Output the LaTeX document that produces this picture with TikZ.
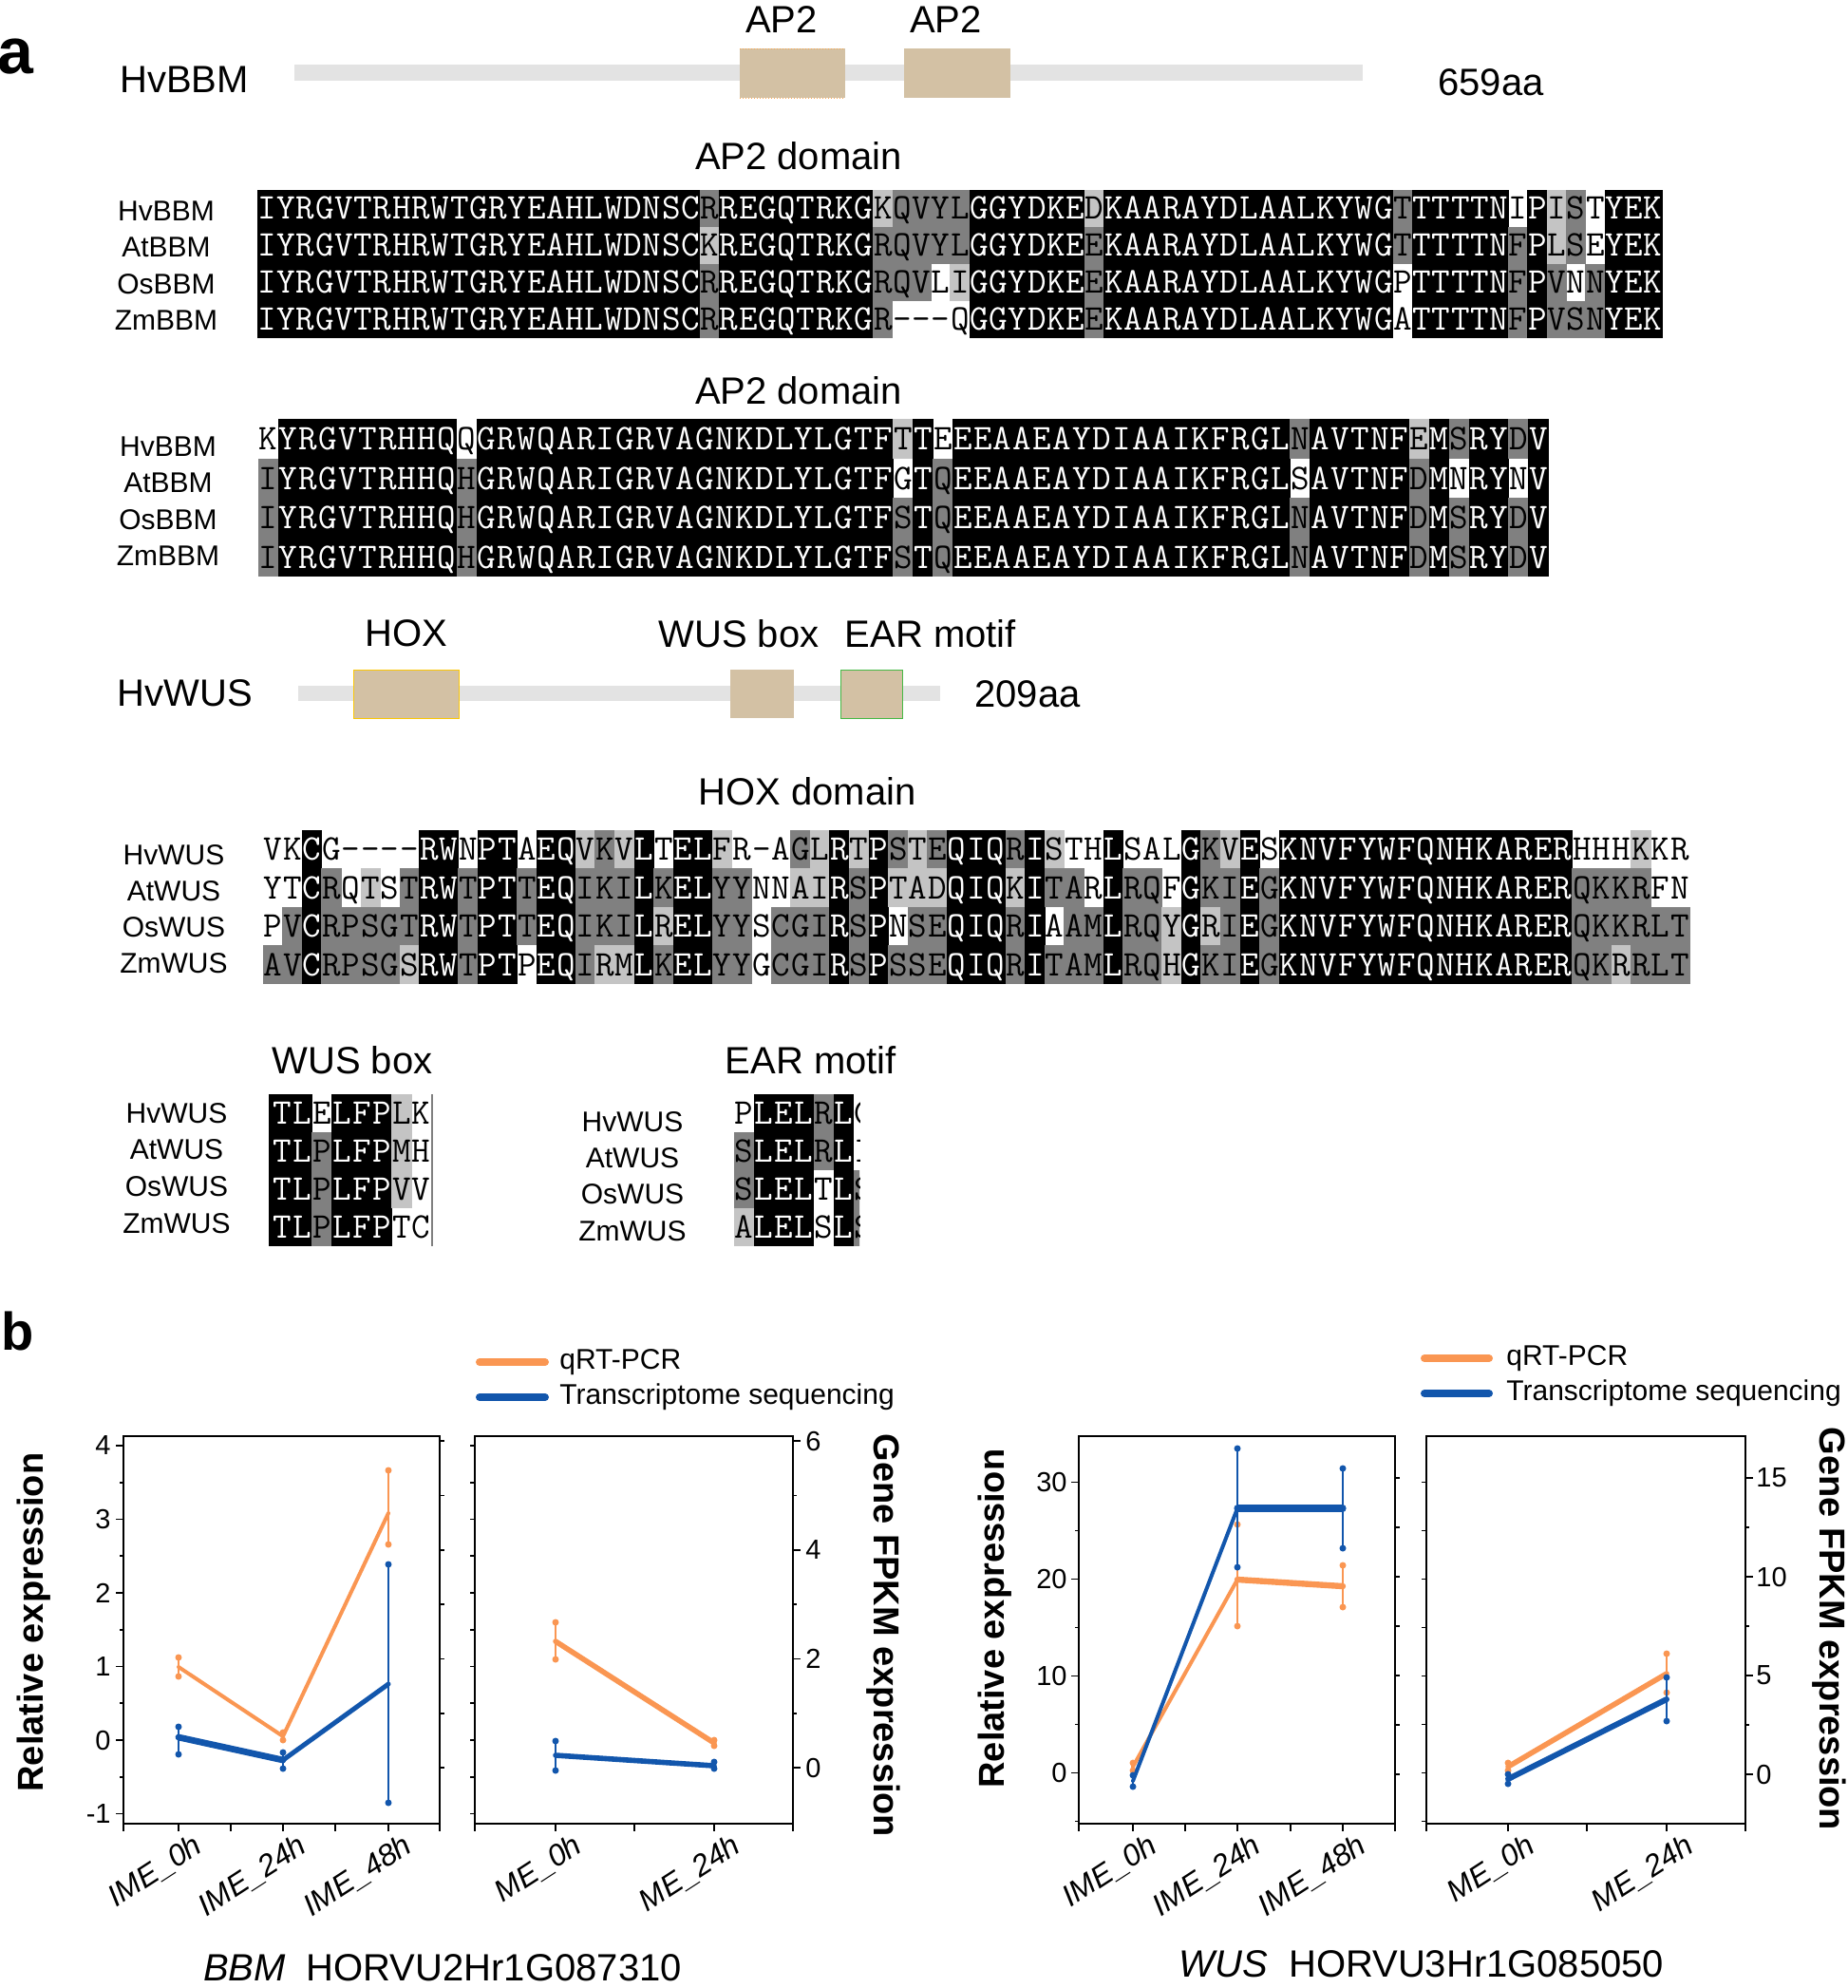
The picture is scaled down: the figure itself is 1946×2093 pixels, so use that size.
\documentclass[tikz,border=0pt]{standalone}
\usepackage{fontspec}
\setmainfont{Liberation Sans}
\definecolor{dgray}{RGB}{128,128,128}
\definecolor{lgray}{RGB}{196,196,196}
\definecolor{barC}{RGB}{227,227,227}
\definecolor{tanC}{RGB}{211,193,164}
\definecolor{orangeC}{RGB}{250,150,82}
\definecolor{blueC}{RGB}{18,86,172}
\newcommand\myfs[1]{\fontsize{#1}{#1}\selectfont}
\def\rep#1#2{\ifnum#1>0 #2\expandafter\rep\expandafter{\number\numexpr#1-1\relax}{#2}\fi}
\newcount\alncnt
\newif\ifalntext
\def\ABO{11.6}
\def\alnrow#1#2#3#4#5#6#7{%
  \def\APre{#1}\def\AX{#2}\def\AY{#3}\def\AW{#4}\def\AH{#5}%
  \edef\alnGo{\noexpand\alnloop#6\noexpand\relax#7\noexpand\relax}%
  \alncnt=0 \alntextfalse\alnGo
  \alncnt=0 \alntexttrue\alnGo}
\def\alnloop#1#2\relax#3#4\relax{%
  \advance\alncnt by 1
  \pgfmathsetmacro\cxl{\AX+(\the\alncnt-1)*\AW}%
  \pgfmathsetmacro\cxc{\cxl+\AW/2}%
  \ifalntext
    \ifx#3B\def\tcol{white}\else\def\tcol{black}\fi
    \node[aln,text=\tcol] (\APre\the\alncnt) at (\cxc,\AY+\ABO) {#1};%
  \else
    \def\bcol{white}%
    \ifx#3B\def\bcol{black}\fi
    \ifx#3D\def\bcol{dgray}\fi
    \ifx#3L\def\bcol{lgray}\fi
    \ifx#3W\else\fill[fill=\bcol] (\cxl-0.4,\AY-\AH/2) rectangle (\cxl+\AW+0.4,\AY+\AH/2);\fi
  \fi
  \ifx\relax#2\relax\let\alnnext\relax\else\def\alnnext{\alnloop#2\relax#4\relax}\fi
  \alnnext}
\newcommand\ebar[4]{\draw[#1,line width=1.3pt] (#2,#3) -- (#2,#4); \fill[#1] (#2,#3) circle (3.5) (#2,#4) circle (3.5);}
\tikzset{
  aln/.style={font=\ttfamily\myfs{19},inner sep=0pt,anchor=base},
  hdr/.style={font=\myfs{20},inner sep=0pt},
  seqlbl/.style={font=\myfs{15},inner sep=0pt},
  tklab/.style={font=\myfs{14.5},inner sep=0pt},
  xtk/.style={font=\itshape\myfs{16},inner sep=0pt,rotate=33,anchor=east},
  axl/.style={font=\bfseries\myfs{19},inner sep=0pt},
  legtxt/.style={font=\myfs{15},inner sep=0pt,anchor=west},
  frame/.style={black,line width=1pt},
  tk/.style={black,line width=0.9pt},
  dl/.style={line cap=round,line join=round},
  leg/.style={line width=4pt,line cap=round}
}
\begin{document}
\begin{tikzpicture}[x=0.5pt,y=-0.5pt]
\useasboundingbox (0,0) rectangle (1946,2093);
% ---------------- panel a header
\node[font=\bfseries\myfs{34},inner sep=0pt] (pa) at (16,60) {a};
\node[hdr] (hBBM) at (194,84) {HvBBM};
\fill[barC] (310,68) rectangle (1435,85);
\fill[tanC] (779,51) rectangle (890,103);
\draw[orange!70,line width=0.5pt,densely dotted] (779,51) -- (890,51) (779,103) -- (890,103);
\fill[tanC] (952,51) rectangle (1064,103);
\node[hdr] (ap2a) at (823,21) {AP2};
\node[hdr] (ap2b) at (996,21) {AP2};
\node[hdr] (len1) at (1570,87) {659aa};
\node[hdr] (t1) at (841,164) {AP2 domain};
% block 1
\node[seqlbl] (l1a) at (175,222) {HvBBM};
\node[seqlbl] (l1b) at (175,260) {AtBBM};
\node[seqlbl] (l1c) at (175,299) {OsBBM};
\node[seqlbl] (l1d) at (175,337) {ZmBBM};
\alnrow{aA}{271}{219}{20.27}{39}{IYRGVTRHRWTGRYEAHLWDNSCRREGQTRKGKQVYLGGYDKEDKAARAYDLAALKYWGTTTTTNIPISTYEK}{\rep{23}BD\rep{8}BLDDDD\rep{6}BL\rep{15}BD\rep{5}BWBLDW\rep{3}B}
\alnrow{aB}{271}{258}{20.27}{39}{IYRGVTRHRWTGRYEAHLWDNSCKREGQTRKGRQVYLGGYDKEEKAARAYDLAALKYWGTTTTTNFPLSEYEK}{\rep{23}BL\rep{8}BDDDDD\rep{6}BD\rep{15}BD\rep{5}BDBLDW\rep{3}B}
\alnrow{aC}{271}{297}{20.27}{39}{IYRGVTRHRWTGRYEAHLWDNSCRREGQTRKGRQVLIGGYDKEEKAARAYDLAALKYWGPTTTTNFPVNNYEK}{\rep{23}BD\rep{8}BDDDWL\rep{6}BD\rep{15}BW\rep{5}BDBDWD\rep{3}B}
\alnrow{aD}{271}{336}{20.27}{39}{IYRGVTRHRWTGRYEAHLWDNSCRREGQTRKGR---QGGYDKEEKAARAYDLAALKYWGATTTTNFPVSNYEK}{\rep{23}BD\rep{8}BDWWWW\rep{6}BD\rep{15}BW\rep{5}BDBDDD\rep{3}B}
% block 2
\node[hdr] (t2) at (841,411) {AP2 domain};
\node[seqlbl] (l2a) at (177,470) {HvBBM};
\node[seqlbl] (l2b) at (177,508) {AtBBM};
\node[seqlbl] (l2c) at (177,547) {OsBBM};
\node[seqlbl] (l2d) at (177,585) {ZmBBM};
\alnrow{bA}{272}{462}{20.9}{41.5}{KYRGVTRHHQQGRWQARIGRVAGNKDLYLGTFTTEEEAAEAYDIAAIKFRGLNAVTNFEMSRYDV}{W\rep{9}BW\rep{21}BLBW\rep{17}BD\rep{5}BLBDBBDB}
\alnrow{bB}{272}{503.5}{20.9}{41.5}{IYRGVTRHHQHGRWQARIGRVAGNKDLYLGTFGTQEEAAEAYDIAAIKFRGLSAVTNFDMNRYNV}{D\rep{9}BD\rep{21}BWBD\rep{17}BW\rep{5}BDBWBBWB}
\alnrow{bC}{272}{545}{20.9}{41.5}{IYRGVTRHHQHGRWQARIGRVAGNKDLYLGTFSTQEEAAEAYDIAAIKFRGLNAVTNFDMSRYDV}{D\rep{9}BD\rep{21}BDBD\rep{17}BD\rep{5}BDBDBBDB}
\alnrow{bD}{272}{586.5}{20.9}{41.5}{IYRGVTRHHQHGRWQARIGRVAGNKDLYLGTFSTQEEAAEAYDIAAIKFRGLNAVTNFDMSRYDV}{D\rep{9}BD\rep{21}BDBD\rep{17}BD\rep{5}BDBDBBDB}
% HvWUS schematic
\node[hdr] (hHOX) at (428,667) {HOX};
\node[hdr] (hWB) at (778,667) {WUS box};
\node[hdr] (hEAR) at (980,667) {EAR motif};
\node[hdr] (hWUS) at (195,730) {HvWUS};
\fill[barC] (314,722) rectangle (990,738);
\fill[tanC] (372,705) rectangle (483,756);
\draw[yellow!60!orange,line width=0.4pt] (372,705) rectangle (483,756);
\fill[tanC] (769,705) rectangle (836,756);
\fill[tanC] (885,705) rectangle (950,756);
\draw[green!45!gray,line width=0.4pt] (885,705) rectangle (950,756);
\node[hdr] (len2) at (1082,731) {209aa};
% HOX block
\node[hdr] (t3) at (850,833) {HOX domain};
\node[seqlbl] (l3a) at (183,900) {HvWUS};
\node[seqlbl] (l3b) at (183,938) {AtWUS};
\node[seqlbl] (l3c) at (183,976) {OsWUS};
\node[seqlbl] (l3d) at (183,1014) {ZmWUS};
\alnrow{cA}{277}{894}{20.58}{40.5}{VKCG----RWNPTAEQVKVLTELFR-AGLRTPSTEQIQRISTHLSALGKVESKNVFYWFQNHKARERHHHKKR}{WWBWWWWWBBWBBWBBLDLBWBBLWWWDLBLBDLDBBBDBLWWBWWWBDLBW\rep{15}BWWWLWW}
\alnrow{cB}{277}{934.5}{20.58}{40.5}{YTCRQTSTRWTPTTEQIKILKELYYNNAIRSPTADQIQKITARLRQFGKIEGKNVFYWFQNHKARERQKKRFN}{WWBDWLWDBBDBBDBBDDDBDBBDDWWLLBDBLLLBBBLBDDWBDDWBDDBD\rep{15}BDDDDWW}
\alnrow{cC}{277}{975}{20.58}{40.5}{PVCRPSGTRWTPTTEQIKILRELYYSCGIRSPNSEQIQRIAAMLRQYGRIEGKNVFYWFQNHKARERQKKRLT}{WDBDDDDDBBDBBDBBDDDBLBBDDWDDDBDBWDDBBBDBWDDBDDLBLDBD\rep{15}BDDDDDD}
\alnrow{cD}{277}{1015.5}{20.58}{40.5}{AVCRPSGSRWTPTPEQIRMLKELYYGCGIRSPSSEQIQRITAMLRQHGKIEGKNVFYWFQNHKARERQKRRLT}{DDBDDDDLBBDBBWBBDLLBDBBDDWDDDBDBDDDBBBDBDDDBDDLBDDBD\rep{15}BDDLDDD}
% WUS box
\node[hdr] (t4) at (371,1116) {WUS box};
\node[seqlbl] (l4a) at (186,1172) {HvWUS};
\node[seqlbl] (l4b) at (186,1210) {AtWUS};
\node[seqlbl] (l4c) at (186,1249) {OsWUS};
\node[seqlbl] (l4d) at (186,1288) {ZmWUS};
\fill[black] (283,1152) rectangle (287.3,1312);
\fill[dgray] (454.2,1152) rectangle (455.8,1312);
\alnrow{dA}{287}{1172}{20.9}{40}{TLELFPLK}{BBWBBBLW}
\alnrow{dB}{287}{1212}{20.9}{40}{TLPLFPMH}{BBDBBBLW}
\alnrow{dC}{287}{1252}{20.9}{40}{TLPLFPVV}{BBDBBBLW}
\alnrow{dD}{287}{1292}{20.9}{40}{TLPLFPTC}{BBDBBBWW}
% EAR motif
\node[hdr] (t5) at (854,1116) {EAR motif};
\node[seqlbl] (l5a) at (666,1181) {HvWUS};
\node[seqlbl] (l5b) at (666,1219) {AtWUS};
\node[seqlbl] (l5c) at (666,1257) {OsWUS};
\node[seqlbl] (l5d) at (666,1296) {ZmWUS};
\begin{scope}
\clip (770,1150) rectangle (905,1315);
\alnrow{eA}{773}{1172}{21}{40}{PLELRLC}{WBBBDBW}
\alnrow{eB}{773}{1212}{21}{40}{SLELRLI}{DBBBDBW}
\alnrow{eC}{773}{1252}{21}{40}{SLELTLS}{DBBBWBD}
\alnrow{eD}{773}{1292}{21}{40}{ALELSLS}{LBBBWBD}
\end{scope}
% ---------------- panel b
\node[font=\bfseries\myfs{28},inner sep=0pt] (pb) at (19,1401) {b};
% legends
\draw[leg,orangeC] (505,1434) -- (574,1434);
\node[legtxt] (lq1) at (589,1434) {qRT-PCR};
\draw[leg,blueC] (505,1471) -- (574,1471);
\node[legtxt] (lt1) at (589,1471) {Transcriptome sequencing};
\draw[leg,orangeC] (1500,1430) -- (1568,1430);
\node[legtxt] (lq2) at (1586,1430) {qRT-PCR};
\draw[leg,blueC] (1500,1467) -- (1568,1467);
\node[legtxt] (lt2) at (1586,1467) {Transcriptome sequencing};
% frames
\draw[frame] (130,1512) rectangle (463,1920);
\draw[frame] (500,1512) rectangle (835,1920);
\draw[frame] (1136,1512) rectangle (1469,1920);
\draw[frame] (1502,1512) rectangle (1838,1920);
\foreach \x in {130,188,243,298,353,409,463,500,585,668,752,835,1136,1193,1248,1303,1359,1414,1469,1502,1588,1671,1755,1838}
  \draw[tk] (\x,1920) -- (\x,1928);
% P1 axes
\foreach \v in {-1,0,1,2,3,4} {
  \draw[tk] (130,{1832-77.5*(\v)}) -- ++(-8,0);
  \node[tklab,anchor=east] (p1l\v) at (117,{1832-77.5*(\v)}) {\v};
}
\foreach \v in {-0.5,0.5,1.5,2.5,3.5} \draw[tk] (130,{1832-77.5*(\v)}) -- ++(-4,0);
\foreach \k in {0,1,...,6} \draw[tk] (463,{1861-57.3*(\k)}) -- ++(5,0);
% P2 axes
\foreach \v in {-1,-0.5,...,4} \draw[tk] (500,{1832-77.5*(\v)}) -- ++(-5,0);
\foreach \k in {0,2,4,6} {
  \draw[tk] (835,{1861-57.3*(\k)}) -- ++(8,0);
  \node[tklab,anchor=west] (p2r\k) at (848,{1861-57.3*(\k)}) {\k};
}
\foreach \k in {1,3,5} \draw[tk] (835,{1861-57.3*(\k)}) -- ++(4,0);
% P3 axes
\foreach \v in {0,10,20,30} {
  \draw[tk] (1136,{1866.5-10.2*(\v)}) -- ++(-8,0);
  \node[tklab,anchor=east] (p3l\v) at (1124,{1866.5-10.2*(\v)}) {\v};
}
\foreach \v in {-5,5,15,25} \draw[tk] (1136,{1866.5-10.2*(\v)}) -- ++(-4,0);
\foreach \k in {0,2.5,...,15} \draw[tk] (1469,{1868-20.8*(\k)}) -- ++(5,0);
% P4 axes
\foreach \v in {-5,0,...,30} \draw[tk] (1502,{1866.5-10.2*(\v)}) -- ++(-5,0);
\foreach \k in {0,5,10,15} {
  \draw[tk] (1838,{1868-20.8*(\k)}) -- ++(8,0);
  \node[tklab,anchor=west] (p4r\k) at (1849,{1868-20.8*(\k)}) {\k};
}
\foreach \k in {2.5,7.5,12.5} \draw[tk] (1838,{1868-20.8*(\k)}) -- ++(4,0);
% x tick labels
\node[xtk] (x1) at (210,1940) {IME\_0h};
\node[xtk] (x2) at (320,1940) {IME\_24h};
\node[xtk] (x3) at (431,1940) {IME\_48h};
\node[xtk] (x4) at (610,1940) {ME\_0h};
\node[xtk] (x5) at (777,1940) {ME\_24h};
\node[xtk] (x6) at (1215,1940) {IME\_0h};
\node[xtk] (x7) at (1325,1940) {IME\_24h};
\node[xtk] (x8) at (1436,1940) {IME\_48h};
\node[xtk] (x9) at (1613,1940) {ME\_0h};
\node[xtk] (x10) at (1780,1940) {ME\_24h};
% axis titles
\node[axl,rotate=90] (ya1) at (36,1708) {Relative expression};
\node[axl,rotate=-90] (ya2) at (930,1722) {Gene FPKM expression};
\node[axl,rotate=90] (ya3) at (1048,1704) {Relative expression};
\node[axl,rotate=-90] (ya4) at (1926,1715) {Gene FPKM expression};
% captions
\node[font=\myfs{20},inner sep=0pt] (capL) at (466,2072) {\textit{BBM}\hspace{0.55em}HORVU2Hr1G087310};
\node[font=\myfs{20},inner sep=0pt] (capR) at (1497,2068) {\textit{WUS}\hspace{0.55em}HORVU3Hr1G085050};
% ---- data P1
\ebar{orangeC}{188}{1745}{1765}
\ebar{orangeC}{298}{1824}{1832}
\ebar{orangeC}{409}{1548}{1626}
\draw[dl,orangeC,line width=2pt] (188,1755) -- (298,1828) -- (409,1593);
\ebar{blueC}{188}{1818}{1847}
\ebar{blueC}{298}{1845}{1862}
\ebar{blueC}{409}{1647}{1898}
\draw[dl,blueC,line width=3.4pt] (188,1829) -- (298,1853);
\draw[dl,blueC,line width=2.5pt] (298,1853) -- (409,1773);
% ---- data P2
\ebar{orangeC}{585}{1708}{1747}
\ebar{orangeC}{752}{1832}{1838}
\draw[dl,orangeC,line width=2.8pt] (585,1728) -- (752,1835);
\ebar{blueC}{585}{1833}{1864}
\ebar{blueC}{752}{1855}{1862}
\draw[dl,blueC,line width=2.8pt] (585,1848) -- (752,1859);
% ---- data P3
\ebar{orangeC}{1193}{1856}{1864}
\ebar{orangeC}{1303}{1605}{1712}
\ebar{orangeC}{1414}{1648}{1692}
\draw[dl,orangeC,line width=2pt] (1193,1860) -- (1303,1663);
\draw[dl,orangeC,line width=3.2pt] (1303,1663) -- (1414,1670);
\ebar{blueC}{1193}{1869}{1881}
\ebar{blueC}{1303}{1525}{1650}
\ebar{blueC}{1414}{1546}{1630}
\draw[dl,blueC,line width=2pt] (1193,1875) -- (1303,1588);
\draw[dl,blueC,line width=3.6pt] (1303,1588) -- (1414,1588);
% ---- data P4
\ebar{orangeC}{1588}{1856}{1864}
\ebar{orangeC}{1755}{1741}{1782}
\draw[dl,orangeC,line width=2.8pt] (1588,1860) -- (1755,1762);
\ebar{blueC}{1588}{1868}{1878}
\ebar{blueC}{1755}{1766}{1812}
\draw[dl,blueC,line width=3pt] (1588,1873) -- (1755,1789);
\end{tikzpicture}
\end{document}
